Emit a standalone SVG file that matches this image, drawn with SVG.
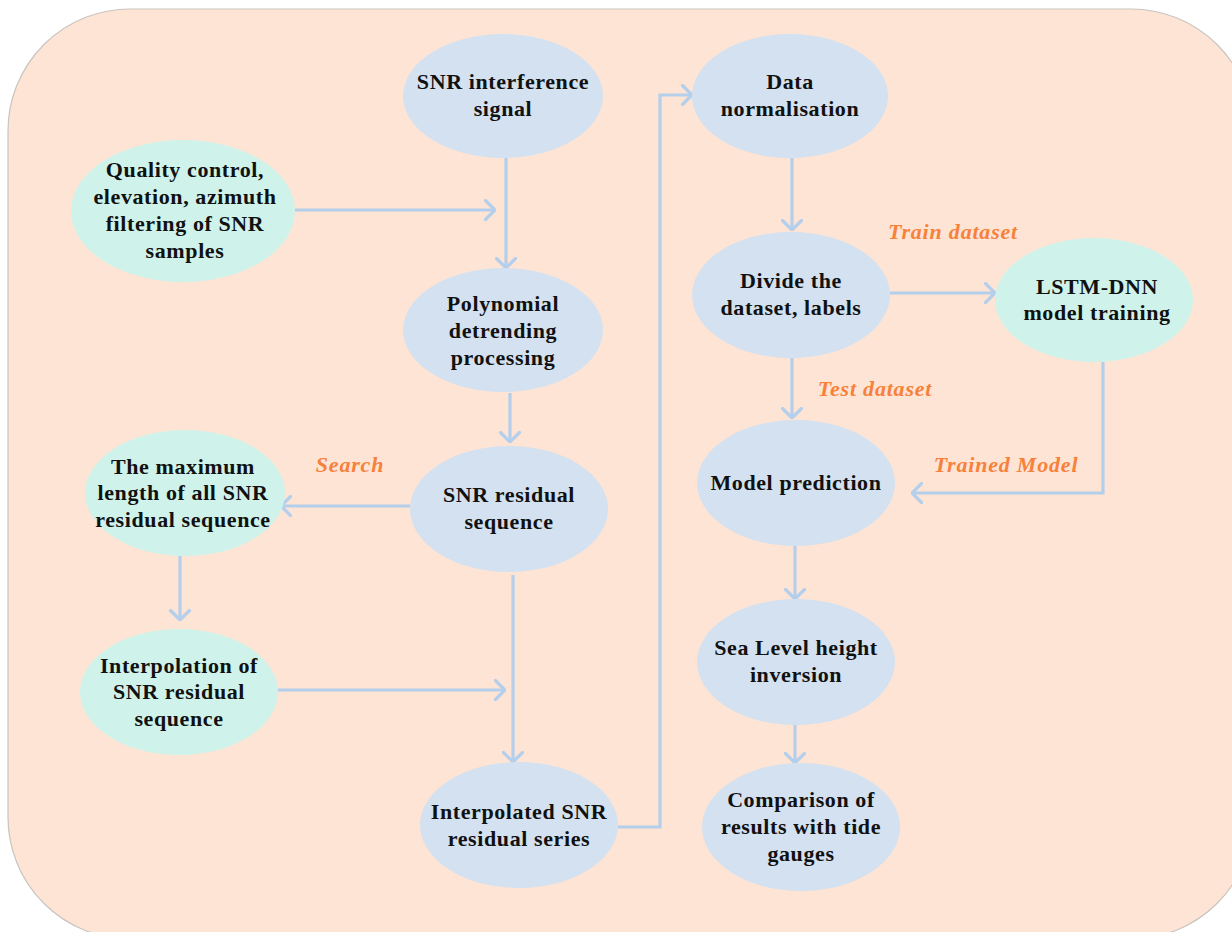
<svg xmlns="http://www.w3.org/2000/svg" width="1232" height="932" viewBox="0 0 1232 932">
<defs>
<style>
.bg{fill:#FEE4D4;stroke:#C9C4C0;stroke-width:1.2}
.b{fill:#D3E1F0}
.g{fill:#CFF3EA}
.t{font-family:"Liberation Serif",serif;font-weight:bold;font-size:22px;letter-spacing:0.6px;fill:#111;text-anchor:middle}
.l{font-family:"Liberation Serif",serif;font-style:italic;font-weight:bold;font-size:22px;letter-spacing:0.8px;fill:#F7813A;text-anchor:middle}
.c{fill:none;stroke:#B4CFEC;stroke-width:3.2;stroke-linejoin:miter}
</style>
<marker id="ah" viewBox="0 0 12 22" refX="11" refY="11" markerWidth="12" markerHeight="22" markerUnits="userSpaceOnUse" orient="auto">
<path d="M1.5,1.5 L11,11 L1.5,20.5" fill="none" stroke="#B4CFEC" stroke-width="3.2" stroke-linecap="round"/>
</marker>
</defs>
<rect class="bg" x="8" y="9" width="1245" height="930" rx="122" ry="122"/>
<g id="connectors">
<path class="c" d="M295,210 H495" marker-end="url(#ah)"/>
<path class="c" d="M506,158 V268" marker-end="url(#ah)"/>
<path class="c" d="M510,393 V442" marker-end="url(#ah)"/>
<path class="c" d="M410,506 H281" marker-end="url(#ah)"/>
<path class="c" d="M180,556 V620" marker-end="url(#ah)"/>
<path class="c" d="M278,690 H505" marker-end="url(#ah)"/>
<path class="c" d="M513,575 V762" marker-end="url(#ah)"/>
<path class="c" d="M618,827 H660 V95 H692" marker-end="url(#ah)"/>
<path class="c" d="M792,158 V230" marker-end="url(#ah)"/>
<path class="c" d="M890,293 H995" marker-end="url(#ah)"/>
<path class="c" d="M792,358 V418" marker-end="url(#ah)"/>
<path class="c" d="M1103,362 V493 H912" marker-end="url(#ah)"/>
<path class="c" d="M795,545 V599" marker-end="url(#ah)"/>
<path class="c" d="M795,725 V763" marker-end="url(#ah)"/>
</g>
<g id="labels">
<text class="l" x="350" y="472">Search</text>
<text class="l" x="953" y="239">Train dataset</text>
<text class="l" x="875" y="396">Test dataset</text>
<text class="l" x="1006" y="472">Trained Model</text>
</g>
<g id="n1"><ellipse class="b" cx="503" cy="96" rx="100" ry="62"/><text class="t" x="503" y="89">SNR interference</text><text class="t" x="503" y="116">signal</text></g>
<g id="n2"><ellipse class="g" cx="183" cy="211" rx="112" ry="71"/><text class="t" x="185" y="177">Quality control,</text><text class="t" x="185" y="204">elevation, azimuth</text><text class="t" x="185" y="231">filtering of SNR</text><text class="t" x="185" y="258">samples</text></g>
<g id="n3"><ellipse class="b" cx="503" cy="330" rx="100" ry="62"/><text class="t" x="503" y="311">Polynomial</text><text class="t" x="503" y="338">detrending</text><text class="t" x="503" y="365">processing</text></g>
<g id="n4"><ellipse class="b" cx="509" cy="509" rx="99" ry="63"/><text class="t" x="509" y="502">SNR residual</text><text class="t" x="509" y="529">sequence</text></g>
<g id="n5"><ellipse class="g" cx="185" cy="493" rx="100" ry="63"/><text class="t" x="183" y="474">The maximum</text><text class="t" x="183" y="500">length of all SNR</text><text class="t" x="183" y="527">residual sequence</text></g>
<g id="n6"><ellipse class="g" cx="179" cy="692" rx="99" ry="63"/><text class="t" x="179" y="673">Interpolation of</text><text class="t" x="179" y="699">SNR residual</text><text class="t" x="179" y="726">sequence</text></g>
<g id="n7"><ellipse class="b" cx="519" cy="825" rx="99" ry="63"/><text class="t" x="519" y="819">Interpolated SNR</text><text class="t" x="519" y="846">residual series</text></g>
<g id="n8"><ellipse class="b" cx="790" cy="96" rx="98" ry="62"/><text class="t" x="790" y="89">Data</text><text class="t" x="790" y="116">normalisation</text></g>
<g id="n9"><ellipse class="b" cx="791" cy="295" rx="99" ry="63"/><text class="t" x="791" y="288">Divide the</text><text class="t" x="791" y="315">dataset, labels</text></g>
<g id="n10"><ellipse class="g" cx="1094" cy="300" rx="99" ry="62"/><text class="t" x="1097" y="294">LSTM-DNN</text><text class="t" x="1097" y="320">model training</text></g>
<g id="n11"><ellipse class="b" cx="796" cy="483" rx="99" ry="63"/><text class="t" x="796" y="490">Model prediction</text></g>
<g id="n12"><ellipse class="b" cx="796" cy="662" rx="99" ry="63"/><text class="t" x="796" y="655">Sea Level height</text><text class="t" x="796" y="682">inversion</text></g>
<g id="n13"><ellipse class="b" cx="801" cy="827" rx="99" ry="64"/><text class="t" x="801" y="807">Comparison of</text><text class="t" x="801" y="834">results with tide</text><text class="t" x="801" y="861">gauges</text></g>
</svg>
